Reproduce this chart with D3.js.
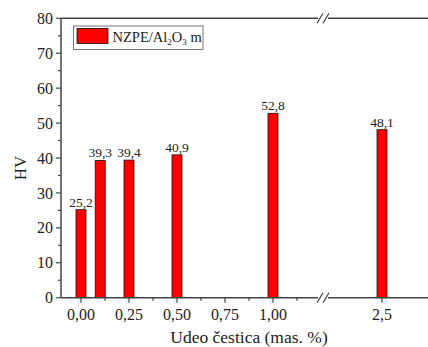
<!DOCTYPE html>
<html>
<head>
<meta charset="utf-8">
<script src="https://cdn.jsdelivr.net/npm/d3@7"></script>
<style>
  body { margin: 0; background: #fff; }
  svg text { font-family: "Liberation Serif", "Times New Roman", serif; fill: #222; }
</style>
</head>
<body>
<svg id="chart" width="428" height="347"></svg>
<script>
// --- Données ---
const udeo = [0, 0.1, 0.25, 0.5, 1.0, 2.5];
const hv = [25.2, 39.3, 39.4, 40.9, 52.8, 48.1];
const leftTicks = [0, 0.25, 0.5, 0.75, 1.0];
const leftMinor = [0.125, 0.375, 0.625, 0.875, 1.125];
const rightTicks = [2.5];
const yTicks = [0, 10, 20, 30, 40, 50, 60, 70, 80];
const yMinor = [5, 15, 25, 35, 45, 55, 65, 75];

const svg = d3.select("#chart");
const plotL = 61, plotR = 428, plotT = 18.3, plotB = 297.7, breakX = 323;
const axisColor = "#444";
const fmtComma = (v, d) => v.toFixed(d).replace(".", ",");

// Échelles : axe x coupé en deux segments
const xL = d3.scaleLinear().domain([0, 1]).range([81, 273]);
const xR = d3.scaleLinear().domain([2.3, 2.7]).range([342, 422]);
const xPos = v => v > 1.5 ? xR(v) : xL(v);
const y = d3.scaleLinear().domain([0, 80]).range([plotB, plotT]);

// Barres
const barW = 10;
svg.append("g").selectAll("rect")
    .data(udeo)
    .enter().append("rect")
    .attr("x", d => xPos(d) - barW / 2)
    .attr("y", (d, i) => y(hv[i]))
    .attr("width", barW)
    .attr("height", (d, i) => plotB - y(hv[i]))
    .attr("fill", "#ff0000")
    .attr("stroke", "#111")
    .attr("stroke-width", 0.8);

// Étiquettes de valeur
svg.append("g").selectAll("text")
    .data(udeo)
    .enter().append("text")
    .attr("x", d => xPos(d))
    .attr("y", (d, i) => y(hv[i]) - 3)
    .attr("text-anchor", "middle")
    .attr("font-size", 13.5)
    .text((d, i) => fmtComma(hv[i], 1));

// Axe y
const yAxis = svg.append("g");
yAxis.append("line")
    .attr("x1", plotL).attr("x2", plotL).attr("y1", plotT).attr("y2", plotB)
    .attr("stroke", axisColor).attr("stroke-width", 1.5);
yAxis.selectAll(".major").data(yTicks).enter().append("line")
    .attr("x1", plotL - 5).attr("x2", plotL).attr("y1", d => y(d)).attr("y2", d => y(d))
    .attr("stroke", axisColor).attr("stroke-width", 1.2);
yAxis.selectAll(".minor").data(yMinor).enter().append("line")
    .attr("x1", plotL - 3).attr("x2", plotL).attr("y1", d => y(d)).attr("y2", d => y(d))
    .attr("stroke", axisColor).attr("stroke-width", 1.2);
yAxis.selectAll("text").data(yTicks).enter().append("text")
    .attr("x", plotL - 8).attr("y", d => y(d)).attr("dy", "0.35em")
    .attr("text-anchor", "end").attr("font-size", 16)
    .text(d => d);

svg.append("text")
    .attr("transform", "translate(26,168) rotate(-90)")
    .attr("text-anchor", "middle").attr("font-size", 17)
    .text("HV");

// Lignes horizontales (bas et haut) avec coupure
function hLineWithBreak(yy) {
    const g = svg.append("g");
    g.append("line").attr("x1", plotL).attr("x2", breakX - 5).attr("y1", yy).attr("y2", yy)
        .attr("stroke", axisColor).attr("stroke-width", 1.5);
    g.append("line").attr("x1", breakX + 5).attr("x2", plotR).attr("y1", yy).attr("y2", yy)
        .attr("stroke", axisColor).attr("stroke-width", 1.5);
    [-3, 3].forEach(o => {
        g.append("line")
            .attr("x1", breakX + o - 3).attr("x2", breakX + o + 3)
            .attr("y1", yy + 5).attr("y2", yy - 5)
            .attr("stroke", "#333").attr("stroke-width", 1.1);
    });
}
hLineWithBreak(plotB);
hLineWithBreak(plotT);

// Graduations x
const xAxis = svg.append("g");
const majorX = leftTicks.map(xL).concat(rightTicks.map(xR));
xAxis.selectAll(".major").data(majorX).enter().append("line")
    .attr("x1", d => d).attr("x2", d => d).attr("y1", plotB).attr("y2", plotB + 5)
    .attr("stroke", axisColor).attr("stroke-width", 1.2);
xAxis.selectAll(".minor").data(leftMinor).enter().append("line")
    .attr("x1", d => xL(d)).attr("x2", d => xL(d)).attr("y1", plotB).attr("y2", plotB + 3)
    .attr("stroke", axisColor).attr("stroke-width", 1.2);
xAxis.selectAll(".lab").data(leftTicks).enter().append("text")
    .attr("x", d => xL(d)).attr("y", 320)
    .attr("text-anchor", "middle").attr("font-size", 16)
    .text(d => fmtComma(d, 2));
xAxis.selectAll(".labR").data(rightTicks).enter().append("text")
    .attr("x", d => xR(d)).attr("y", 320)
    .attr("text-anchor", "middle").attr("font-size", 16)
    .text(d => fmtComma(d, 1));

svg.append("text")
    .attr("x", 249).attr("y", 343)
    .attr("text-anchor", "middle").attr("font-size", 17.5)
    .text("Udeo čestica (mas. %)");

// Légende
const leg = svg.append("g");
leg.append("rect").attr("x", 73.5).attr("y", 26).attr("width", 129.5).attr("height", 23.5)
    .attr("fill", "#fff").attr("stroke", "#555").attr("stroke-width", 0.8);
leg.append("rect").attr("x", 77).attr("y", 28.5).attr("width", 31).attr("height", 15)
    .attr("fill", "#ff0000").attr("stroke", "#111").attr("stroke-width", 0.8);
const lt = leg.append("text").attr("x", 112.5).attr("y", 42).attr("font-size", 14.5);
lt.append("tspan").text("NZPE/Al");
lt.append("tspan").attr("font-size", 9).attr("dy", 3).text("2");
lt.append("tspan").attr("dy", -3).text("O");
lt.append("tspan").attr("font-size", 9).attr("dy", 3).text("3");
lt.append("tspan").attr("dy", -3).text(" m");
</script>
</body>
</html>
